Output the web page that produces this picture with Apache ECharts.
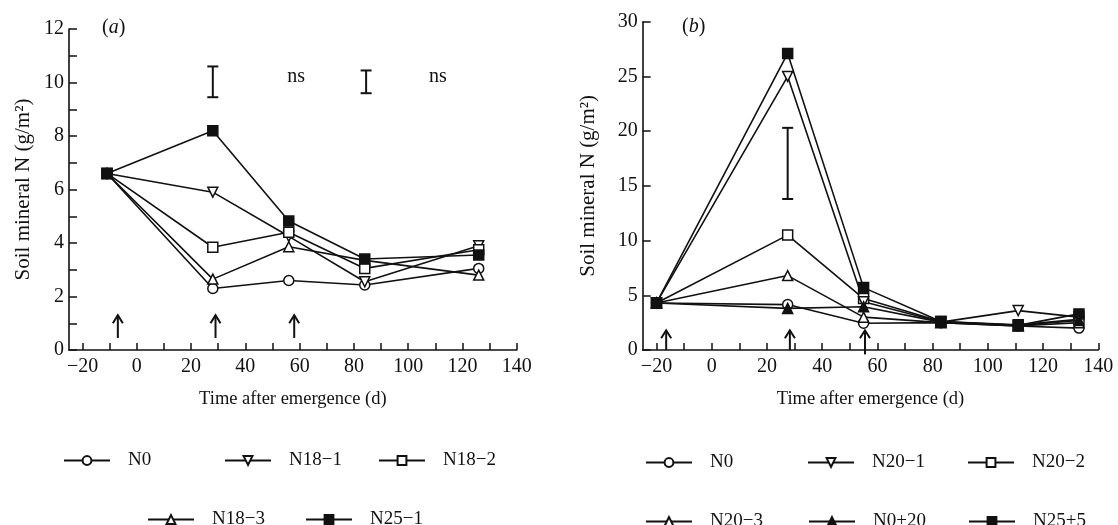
<!DOCTYPE html>
<html>
<head>
<meta charset="utf-8">
<script src="https://cdn.jsdelivr.net/npm/echarts@6/dist/echarts.min.js"></script>
<style>
  html, body { margin: 0; padding: 0; background: #fff; }
  #chart { width: 1118px; height: 525px; }
</style>
</head>
<body>
<div id="chart"></div>
<script>
// panel (a)
var daysA = [-11, 28, 56, 84, 126];
var aN0 = [6.6, 2.3, 2.6, 2.43, 3.05];
var aN18_1 = [6.6, 5.9, 4.25, 2.55, 3.9];
var aN18_2 = [6.6, 3.84, 4.4, 3.05, 3.75];
var aN18_3 = [6.6, 2.65, 3.86, 3.35, 2.8];
var aN25_1 = [6.6, 8.2, 4.82, 3.4, 3.55];
var errA = [[28, 9.45, 10.6], [84.5, 9.6, 10.45]];
var nsA = [[58.7, 10.2], [111, 10.2]];
var arrowsA = [[-7, 0.45, 1.3], [29, 0.45, 1.3], [58, 0.45, 1.3]];

// panel (b)
var daysB = [-20, 27.5, 55, 83, 111, 133];
var bN0 = [4.3, 4.15, 2.45, 2.5, 2.2, 2.0];
var bN20_1 = [4.3, 25.0, 4.4, 2.55, 3.6, 3.0];
var bN20_2 = [4.3, 10.5, 4.7, 2.6, 2.3, 2.8];
var bN20_3 = [4.3, 6.8, 3.0, 2.5, 2.2, 2.5];
var bN0_20 = [4.3, 3.8, 3.95, 2.55, 2.25, 2.7];
var bN25_5 = [4.3, 27.1, 5.7, 2.6, 2.25, 3.3];
var errB = [[27.5, 13.8, 20.3]];
var arrowsB = [[-16.5, 0, 1.8], [28.3, 0, 1.8], [55.5, -0.4, 1.8]];

// ticks
var xTicks = [-20, -10, 0, 10, 20, 30, 40, 50, 60, 70, 80, 90, 100, 110, 120, 130, 140];
var xLabels = [-20, 0, 20, 40, 60, 80, 100, 120, 140];
var yTicksA = [0, 1, 2, 3, 4, 5, 6, 7, 8, 9, 10, 11, 12];
var yLabelsA = [0, 2, 4, 6, 8, 10, 12];
var yTicksB = [0, 5, 10, 15, 20, 25, 30];

var FONT = "Liberation Serif";
var INK = "#111";

function zip(xs, ys) {
  return xs.map(function (x, i) { return [x, ys[i]]; });
}

function minus(v) {
  return String(v).replace("-", "\u2212");
}

function lineSeries(name, idx, xs, ys, shape, filled, down) {
  return {
    name: name,
    type: "line",
    xAxisIndex: idx,
    yAxisIndex: idx,
    data: zip(xs, ys),
    symbol: shape,
    symbolSize: 10,
    symbolRotate: down ? 180 : 0,
    showAllSymbol: true,
    lineStyle: { color: INK, width: 1.6 },
    itemStyle: {
      color: filled ? INK : "#fff",
      borderColor: INK,
      borderWidth: 1.5
    },
    emphasis: { disabled: true },
    animation: false,
    z: filled ? 4 : 3
  };
}

function errSeries(idx, data) {
  return {
    type: "custom",
    xAxisIndex: idx,
    yAxisIndex: idx,
    data: data,
    encode: { x: 0, y: [1, 2] },
    silent: true,
    animation: false,
    renderItem: function (params, api) {
      var top = api.coord([api.value(0), api.value(2)]);
      var bot = api.coord([api.value(0), api.value(1)]);
      var st = { stroke: INK, lineWidth: 2 };
      return {
        type: "group",
        children: [
          { type: "line", shape: { x1: top[0], y1: top[1], x2: bot[0], y2: bot[1] }, style: st },
          { type: "line", shape: { x1: top[0] - 5.5, y1: top[1], x2: top[0] + 5.5, y2: top[1] }, style: st },
          { type: "line", shape: { x1: bot[0] - 5.5, y1: bot[1], x2: bot[0] + 5.5, y2: bot[1] }, style: st }
        ]
      };
    }
  };
}

function arrowSeries(idx, data) {
  return {
    type: "custom",
    xAxisIndex: idx,
    yAxisIndex: idx,
    data: data,
    encode: { x: 0, y: [1, 2] },
    silent: true,
    animation: false,
    renderItem: function (params, api) {
      var tip = api.coord([api.value(0), api.value(2)]);
      var foot = api.coord([api.value(0), api.value(1)]);
      var st = { stroke: INK, lineWidth: 2, fill: null };
      return {
        type: "group",
        children: [
          { type: "line", shape: { x1: tip[0], y1: tip[1], x2: foot[0], y2: foot[1] }, style: st },
          { type: "polyline", shape: { points: [[tip[0] - 5, tip[1] + 8], [tip[0], tip[1]], [tip[0] + 5, tip[1] + 8]] }, style: st }
        ]
      };
    }
  };
}

function nsSeries(idx, data) {
  return {
    type: "custom",
    xAxisIndex: idx,
    yAxisIndex: idx,
    data: data,
    encode: { x: 0, y: 1 },
    silent: true,
    animation: false,
    renderItem: function (params, api) {
      var p = api.coord([api.value(0), api.value(1)]);
      return {
        type: "text",
        x: p[0],
        y: p[1],
        style: { text: "ns", fill: INK, font: "20px " + FONT, align: "center", verticalAlign: "middle" }
      };
    }
  };
}

function xAxis(idx) {
  return {
    type: "value",
    gridIndex: idx,
    min: -25,
    max: 140,
    name: "Time after emergence (d)",
    nameLocation: "middle",
    nameGap: 40,
    nameTextStyle: { fontFamily: FONT, fontSize: 18.5, color: INK },
    axisLine: { onZero: false, lineStyle: { color: INK, width: 1.6 } },
    axisTick: { inside: true, length: 7, customValues: xTicks, lineStyle: { color: INK, width: 1.5 } },
    axisLabel: {
      customValues: xLabels,
      margin: 7,
      fontFamily: FONT,
      fontSize: 20,
      color: INK,
      formatter: minus
    },
    splitLine: { show: false }
  };
}

function yAxis(idx, max, ticks, labels, gap) {
  return {
    type: "value",
    gridIndex: idx,
    min: 0,
    max: max,
    name: "Soil mineral N (g/m\u00b2)",
    nameLocation: "middle",
    nameGap: gap,
    nameTextStyle: { fontFamily: FONT, fontSize: 21, color: INK },
    axisLine: { show: true, onZero: false, lineStyle: { color: INK, width: 1.6 } },
    axisTick: { show: true, inside: true, length: 8, customValues: ticks, lineStyle: { color: INK, width: 1.5 } },
    axisLabel: {
      customValues: labels,
      margin: 5,
      fontFamily: FONT,
      fontSize: 20,
      color: INK
    },
    splitLine: { show: false }
  };
}

var legendSpots = [
  ["N0", 63, 451], ["N18\u22121", 224, 451], ["N18\u22122", 378, 451],
  ["N18\u22123", 147, 510], ["N25\u22121", 305, 510],
  ["N0", 645, 453], ["N20\u22121", 807, 453], ["N20\u22122", 967, 453],
  ["N20\u22123", 645, 512], ["N0+20", 808, 512], ["N25+5", 968, 512]
];

var legends = legendSpots.map(function (s) {
  return {
    data: [s[0]],
    left: s[1],
    top: s[2],
    padding: 0,
    itemWidth: 46,
    itemHeight: 11,
    selectedMode: false,
    textStyle: { fontFamily: FONT, fontSize: 19, color: INK, padding: [0, 0, 0, 13] }
  };
});

var option = {
  backgroundColor: "#fff",
  animation: false,
  grid: [
    { left: 69, top: 29, width: 447.7, height: 321 },
    { left: 642.7, top: 21.7, width: 455.6, height: 328.3 }
  ],
  xAxis: [xAxis(0), xAxis(1)],
  yAxis: [
    yAxis(0, 12, yTicksA, yLabelsA, 35),
    yAxis(1, 30, yTicksB, yTicksB, 44)
  ],
  legend: legends,
  graphic: [
    {
      type: "text", left: 102, top: 18,
      style: { text: "({i|a})", font: "20px " + FONT, fill: INK, rich: { i: { fontStyle: "italic", fontFamily: FONT, fontSize: 20, fill: INK } } }
    },
    {
      type: "text", left: 682, top: 17,
      style: { text: "({i|b})", font: "20px " + FONT, fill: INK, rich: { i: { fontStyle: "italic", fontFamily: FONT, fontSize: 20, fill: INK } } }
    }
  ],
  series: [
    lineSeries("N0", 0, daysA, aN0, "circle", false, false),
    lineSeries("N18\u22123", 0, daysA, aN18_3, "triangle", false, false),
    lineSeries("N18\u22121", 0, daysA, aN18_1, "triangle", false, true),
    lineSeries("N18\u22122", 0, daysA, aN18_2, "rect", false, false),
    lineSeries("N25\u22121", 0, daysA, aN25_1, "rect", true, false),
    errSeries(0, errA),
    nsSeries(0, nsA),
    arrowSeries(0, arrowsA),

    lineSeries("N0", 1, daysB, bN0, "circle", false, false),
    lineSeries("N20\u22123", 1, daysB, bN20_3, "triangle", false, false),
    lineSeries("N20\u22122", 1, daysB, bN20_2, "rect", false, false),
    lineSeries("N20\u22121", 1, daysB, bN20_1, "triangle", false, true),
    lineSeries("N0+20", 1, daysB, bN0_20, "triangle", true, false),
    lineSeries("N25+5", 1, daysB, bN25_5, "rect", true, false),
    errSeries(1, errB),
    arrowSeries(1, arrowsB)
  ]
};

var chart = echarts.init(document.getElementById("chart"));
chart.setOption(option);
</script>
</body>
</html>
